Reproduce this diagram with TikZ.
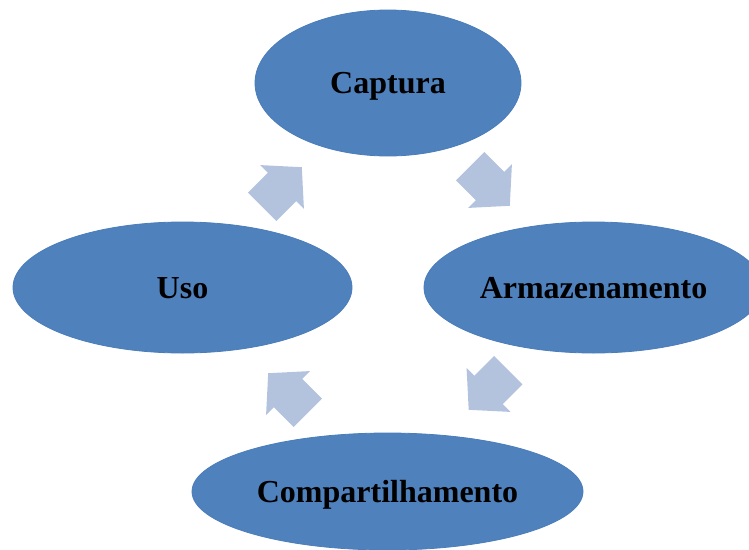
\documentclass[tikz,border=0pt]{standalone}
\usepackage{fontspec}
\setmainfont{Liberation Serif}
\usetikzlibrary{shapes.geometric}
\definecolor{ellblue}{HTML}{4F81BD}
\definecolor{elledge}{HTML}{4A7DB9}
\definecolor{arrblue}{HTML}{B3C3DE}
\tikzset{
  stage/.style={ellipse, fill=ellblue, draw=elledge, line width=0.8pt, inner sep=0pt,
    font=\fontsize{32}{36}\selectfont\bfseries, text=black, text height=21pt, text depth=0pt},
  blockarrow/.pic={\fill[arrblue] (-28,-20) -- (0,-20) -- (0,-31) -- (28,0) -- (0,31) -- (0,20) -- (-28,20) -- cycle;}
}
\begin{document}
\begin{tikzpicture}[x=1pt,y=-1pt]
\useasboundingbox (0,0) rectangle (749,549);
\begin{scope}
\clip (0,0) rectangle (749,549);
\node[stage, minimum width=266, minimum height=146] (cap) at (388,83) {Captura};
\node[stage, minimum width=339, minimum height=131] (uso) at (182.5,287.5) {Uso};
\node[stage, minimum width=339, minimum height=131] (arm) at (593.5,287.5) {Armazenamento};
\node[stage, minimum width=391, minimum height=117] (comp) at (387.5,491.5) {Compartilhamento};
\end{scope}
\pic[rotate=45] at (282,187) {blockarrow};
\pic[rotate=-45] at (490,186) {blockarrow};
\pic[rotate=-135] at (488.5,390) {blockarrow};
\pic[rotate=135] at (288,393) {blockarrow};
\end{tikzpicture}
\end{document}
